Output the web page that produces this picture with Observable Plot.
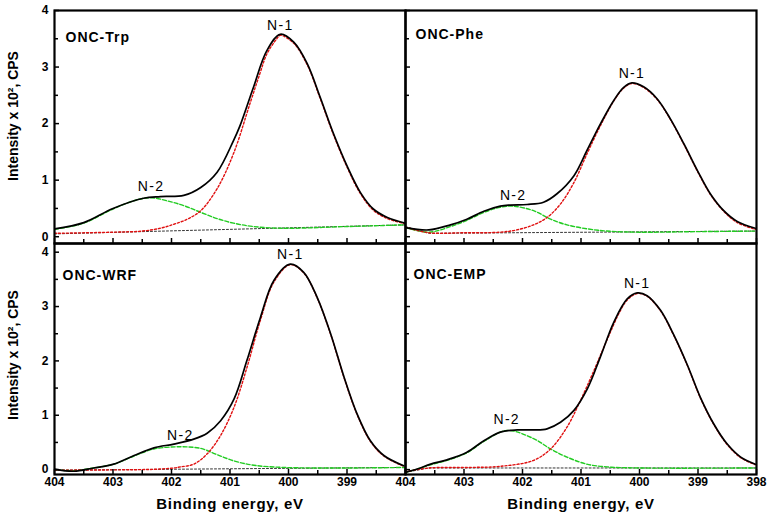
<!DOCTYPE html>
<html><head><meta charset="utf-8">
<script src="https://cdn.jsdelivr.net/npm/d3@7"></script>
<script src="https://cdn.jsdelivr.net/npm/@observablehq/plot@0.6"></script>
<style>
body{margin:0;background:#fff;}
#chart{position:relative;width:772px;height:521px;background:#fff;}
#chart svg{position:absolute;left:0;top:0;overflow:visible;}
</style></head><body><div id="chart"></div>
<script>
// ---------- tick values ----------
const xMajorTicks = [404, 403, 402, 401, 400, 399, 398];
const xMinorTicks = [403.5, 402.5, 401.5, 400.5, 399.5, 398.5];
const xLabelsLeft = [404, 403, 402, 401, 400, 399];
const xLabelsRight = [404, 403, 402, 401, 400, 399, 398];
const yMajorTicks = [0, 1, 2, 3, 4];
const yMinorTicks = [0.5, 1.5, 2.5, 3.5];
const yLabels = [0, 1, 2, 3, 4];

// ---------- panel names ----------
const panelNames = ["ONC-Trp", "ONC-Phe", "ONC-WRF", "ONC-EMP"];

// ---------- ONC-Trp ----------
const trpEnvE = [404, 403.5, 403, 402.48, 402.19, 401.79, 401.5, 401.22, 400.94, 400.83, 400.6, 400.37, 400.14, 399.91, 399.68, 399.46, 399.23, 398.99, 398.77, 398.55, 398.31, 398.0];
const trpEnvI = [0.14, 0.25, 0.5, 0.68, 0.71, 0.73, 0.87, 1.14, 1.70, 1.96, 2.64, 3.29, 3.58, 3.44, 3.06, 2.47, 1.82, 1.23, 0.78, 0.49, 0.34, 0.24];
const trpN1E = [404, 403, 402.5, 402.19, 401.96, 401.73, 401.5, 401.22, 400.94, 400.66, 400.49, 400.37, 400.2, 400.14, 399.91, 399.68, 399.46, 399.23, 398.99, 398.77, 398.55, 398.31, 398.0];
const trpN1I = [0.06, 0.08, 0.10, 0.15, 0.22, 0.31, 0.46, 0.85, 1.47, 2.35, 2.88, 3.23, 3.50, 3.56, 3.42, 3.04, 2.45, 1.80, 1.21, 0.76, 0.47, 0.32, 0.23];
const trpN2E = [404, 403.5, 403, 402.6, 402.35, 402.06, 401.79, 401.5, 401.22, 400.94, 400.6, 400.09, 399, 398];
const trpN2I = [0.13, 0.24, 0.49, 0.65, 0.69, 0.63, 0.55, 0.43, 0.32, 0.24, 0.18, 0.15, 0.18, 0.21];
const trpBaseE = [404, 398];
const trpBaseI = [0.05, 0.21];

// ---------- ONC-Phe ----------
const pheEnvE = [404, 403.6, 403.23, 402.95, 402.66, 402.38, 402.21, 401.92, 401.64, 401.41, 401.12, 400.9, 400.67, 400.44, 400.27, 400.13, 399.93, 399.7, 399.47, 399.24, 399.01, 398.79, 398.56, 398.33, 398.02];
const pheEnvI = [0.16, 0.12, 0.21, 0.31, 0.45, 0.54, 0.56, 0.57, 0.61, 0.76, 1.08, 1.52, 1.99, 2.41, 2.64, 2.72, 2.65, 2.44, 2.08, 1.64, 1.17, 0.76, 0.46, 0.27, 0.15];
const pheN1E = [404, 403.6, 403, 402.38, 402.1, 401.81, 401.58, 401.35, 401.12, 400.9, 400.67, 400.44, 400.27, 400.13, 399.93, 399.7, 399.47, 399.24, 399.01, 398.79, 398.56, 398.33, 398.02];
const pheN1I = [0.17, 0.07, 0.07, 0.08, 0.12, 0.21, 0.34, 0.58, 0.96, 1.46, 1.96, 2.40, 2.63, 2.71, 2.64, 2.43, 2.07, 1.63, 1.16, 0.75, 0.45, 0.25, 0.13];
const pheN2E = [404, 403.6, 403.23, 402.95, 402.66, 402.38, 402.16, 401.81, 401.52, 401.24, 400.9, 400.56, 400, 399, 398];
const pheN2I = [0.16, 0.08, 0.18, 0.29, 0.43, 0.52, 0.54, 0.46, 0.31, 0.21, 0.14, 0.10, 0.08, 0.09, 0.10];
const pheBaseE = [404, 403.6, 398];
const pheBaseI = [0.18, 0.06, 0.10];

// ---------- ONC-WRF ----------
const wrfEnvE = [404, 403.67, 403.33, 402.99, 402.64, 402.3, 401.96, 401.62, 401.39, 401.16, 400.93, 400.71, 400.48, 400.25, 399.97, 399.74, 399.51, 399.28, 399.05, 398.83, 398.6, 398.37, 398.03];
const wrfEnvI = [0.01, -0.03, 0.03, 0.10, 0.26, 0.40, 0.47, 0.56, 0.67, 0.90, 1.30, 2.01, 2.80, 3.48, 3.78, 3.63, 3.17, 2.50, 1.70, 1.03, 0.53, 0.26, 0.07];
const wrfN1E = [404, 402.5, 402.2, 401.96, 401.85, 401.62, 401.39, 401.16, 400.93, 400.71, 400.48, 400.25, 399.97, 399.74, 399.51, 399.28, 399.05, 398.83, 398.6, 398.37, 398.03];
const wrfN1I = [-0.01, 0.0, 0.01, 0.03, 0.05, 0.10, 0.29, 0.63, 1.15, 1.88, 2.75, 3.45, 3.77, 3.62, 3.16, 2.49, 1.69, 1.02, 0.52, 0.25, 0.06];
const wrfN2E = [404, 403.67, 403.33, 402.99, 402.64, 402.3, 401.85, 401.5, 401.21, 400.93, 400.59, 400.08, 399, 398];
const wrfN2I = [0.0, -0.02, 0.03, 0.10, 0.25, 0.38, 0.42, 0.39, 0.27, 0.16, 0.08, 0.04, 0.03, 0.04];
const wrfBaseE = [404, 398];
const wrfBaseI = [-0.01, 0.04];

// ---------- ONC-EMP ----------
const empEnvE = [404, 403.8, 403.57, 403.29, 402.95, 402.66, 402.38, 402.09, 401.81, 401.58, 401.35, 401.12, 400.89, 400.67, 400.44, 400.21, 400.04, 399.87, 399.64, 399.41, 399.18, 398.96, 398.73, 398.5, 398.27, 398.02];
const empEnvI = [-0.05, 0.01, 0.10, 0.18, 0.32, 0.53, 0.69, 0.73, 0.73, 0.75, 0.87, 1.09, 1.49, 2.07, 2.71, 3.14, 3.25, 3.20, 2.93, 2.47, 1.92, 1.33, 0.84, 0.47, 0.23, 0.10];
const empN1E = [404, 403.6, 402.9, 402.38, 401.81, 401.52, 401.24, 401.01, 400.78, 400.55, 400.33, 400.21, 400.04, 399.87, 399.64, 399.41, 399.18, 398.96, 398.73, 398.5, 398.27, 398.02];
const empN1I = [-0.04, 0.03, 0.04, 0.06, 0.17, 0.38, 0.78, 1.27, 1.82, 2.40, 2.92, 3.12, 3.24, 3.19, 2.92, 2.46, 1.91, 1.32, 0.83, 0.46, 0.22, 0.09];
const empN2E = [404, 403.8, 403.57, 403.29, 402.95, 402.66, 402.27, 401.81, 401.52, 401.24, 400.9, 400.55, 400, 398];
const empN2I = [-0.05, 0.01, 0.09, 0.17, 0.31, 0.52, 0.72, 0.57, 0.38, 0.23, 0.10, 0.05, 0.03, 0.03];
const empBaseE = [404, 403.6, 398];
const empBaseI = [-0.05, 0.03, 0.03];

// ---------- labels ----------
const xTitle = "Binding energy, eV";
const yTitle = "Intensity x 10², CPS";
const peakLabels = ["N-1", "N-2"];

const zip = (E, I) => E.map((e, i) => ({e, v: I[i]}));
const peakOf = (E, I) => { const k = d3.maxIndex(I); return {e: E[k], v: I[k]}; };

// layout (pixels of the photographed page)
const W = 772, H = 521;
const colX = [[54, 405], [405, 756]];
const rowY = [[10, 243], [243, 474]];
const rowDomain = [[-0.12, 4], [-0.09, 4.16]];

const panels = [
  {name: panelNames[0], env: [trpEnvE, trpEnvI], n1: [trpN1E, trpN1I], n2: [trpN2E, trpN2I], base: [trpBaseE, trpBaseI], col: 0, row: 0, tdx: 11, tdy: 27},
  {name: panelNames[1], env: [pheEnvE, pheEnvI], n1: [pheN1E, pheN1I], n2: [pheN2E, pheN2I], base: [pheBaseE, pheBaseI], col: 1, row: 0, tdx: 10, tdy: 24},
  {name: panelNames[2], env: [wrfEnvE, wrfEnvI], n1: [wrfN1E, wrfN1I], n2: [wrfN2E, wrfN2I], base: [wrfBaseE, wrfBaseI], col: 0, row: 1, tdx: 8, tdy: 32},
  {name: panelNames[3], env: [empEnvE, empEnvI], n1: [empN1E, empN1I], n2: [empN2E, empN2I], base: [empBaseE, empBaseI], col: 1, row: 1, tdx: 8, tdy: 31}
];

const font = "'Liberation Sans', Arial, Helvetica, sans-serif";
const chart = document.getElementById("chart");

for (const p of panels) {
  const [x0, x1] = colX[p.col];
  const [y0, y1] = rowY[p.row];
  const pw = x1 - x0, ph = y1 - y0;
  const marks = [
    Plot.line(zip(...p.base), {x: "e", y: "v", stroke: "#333", strokeWidth: 1, strokeDasharray: "2,2", clip: true}),
    Plot.line(zip(...p.n2), {x: "e", y: "v", curve: "catmull-rom", stroke: "#22cc22", strokeWidth: 1.4, strokeDasharray: "4,2", clip: true}),
    Plot.line(zip(...p.n1), {x: "e", y: "v", curve: "catmull-rom", stroke: "#e01010", strokeWidth: 1.4, strokeDasharray: "2,2", clip: true}),
    Plot.line(zip(...p.env), {x: "e", y: "v", curve: "catmull-rom", stroke: "black", strokeWidth: 1.7, clip: true}),
    Plot.tickX(xMajorTicks, {x: d => d, insetTop: ph - 5, stroke: "black", strokeWidth: 1.5}),
    Plot.tickX(xMinorTicks, {x: d => d, insetTop: ph - 4, stroke: "black", strokeWidth: 1.5}),
    Plot.tickY(yMajorTicks, {y: d => d, insetRight: pw - 5, stroke: "black", strokeWidth: 1.5}),
    Plot.tickY(yMinorTicks, {y: d => d, insetRight: pw - 4, stroke: "black", strokeWidth: 1.5}),
    Plot.frame({stroke: "black", strokeWidth: 2.2}),
    Plot.text([p.name], {text: d => d, frameAnchor: "top-left", dx: p.tdx, dy: p.tdy, textAnchor: "start", lineAnchor: "middle", fontSize: 14, fontWeight: "bold", fill: "black"}),
    Plot.text([{...peakOf(...p.n1), t: peakLabels[0]}], {x: "e", y: "v", text: "t", dy: -10, fontSize: 14, fontWeight: "normal", fill: "black"}),
    Plot.text([{...peakOf(...p.n2), t: peakLabels[1]}], {x: "e", y: "v", text: "t", dy: -11, fontSize: 14, fontWeight: "normal", fill: "black"})
  ];
  if (p.row === 1) {
    marks.push(Plot.axisX(p.col === 0 ? xLabelsLeft : xLabelsRight, {tickSize: 0, tickPadding: 3, label: null, tickFormat: d => String(d), fontSize: 12, fontWeight: "bold", fill: "black"}));
    marks.push(Plot.text([xTitle], {text: d => d, frameAnchor: "bottom", dy: 34, fontSize: 15, fontWeight: "bold", fill: "black"}));
  }
  if (p.col === 0) {
    marks.push(Plot.axisY(yLabels, {tickSize: 0, tickPadding: 6, label: null, tickFormat: d => String(d), fontSize: 12, fontWeight: "bold", fill: "black"}));
    marks.push(Plot.text([yTitle], {text: d => d, frameAnchor: "left", textAnchor: "middle", rotate: -90, dx: -41, dy: p.row === 0 ? -11 : -4, fontSize: 14, fontWeight: "bold", fill: "black"}));
  }
  const svg = Plot.plot({
    width: W, height: H,
    marginLeft: x0, marginRight: W - x1, marginTop: y0, marginBottom: H - y1,
    x: {domain: [404, 398], axis: null},
    y: {domain: rowDomain[p.row], axis: null},
    style: {background: "transparent", fontFamily: font, color: "black", overflow: "visible"},
    marks
  });
  // letter spacing for the spaced-out labels, as in the reference
  d3.select(svg).selectAll("text").each(function() {
    const t = this.textContent;
    if (panelNames.includes(t)) this.setAttribute("letter-spacing", "1px");
    else if (peakLabels.includes(t)) this.setAttribute("letter-spacing", "1.3px");
    else if (t === xTitle) this.setAttribute("letter-spacing", "0.7px");
  });
  chart.appendChild(svg);
}
</script>
</body></html>
